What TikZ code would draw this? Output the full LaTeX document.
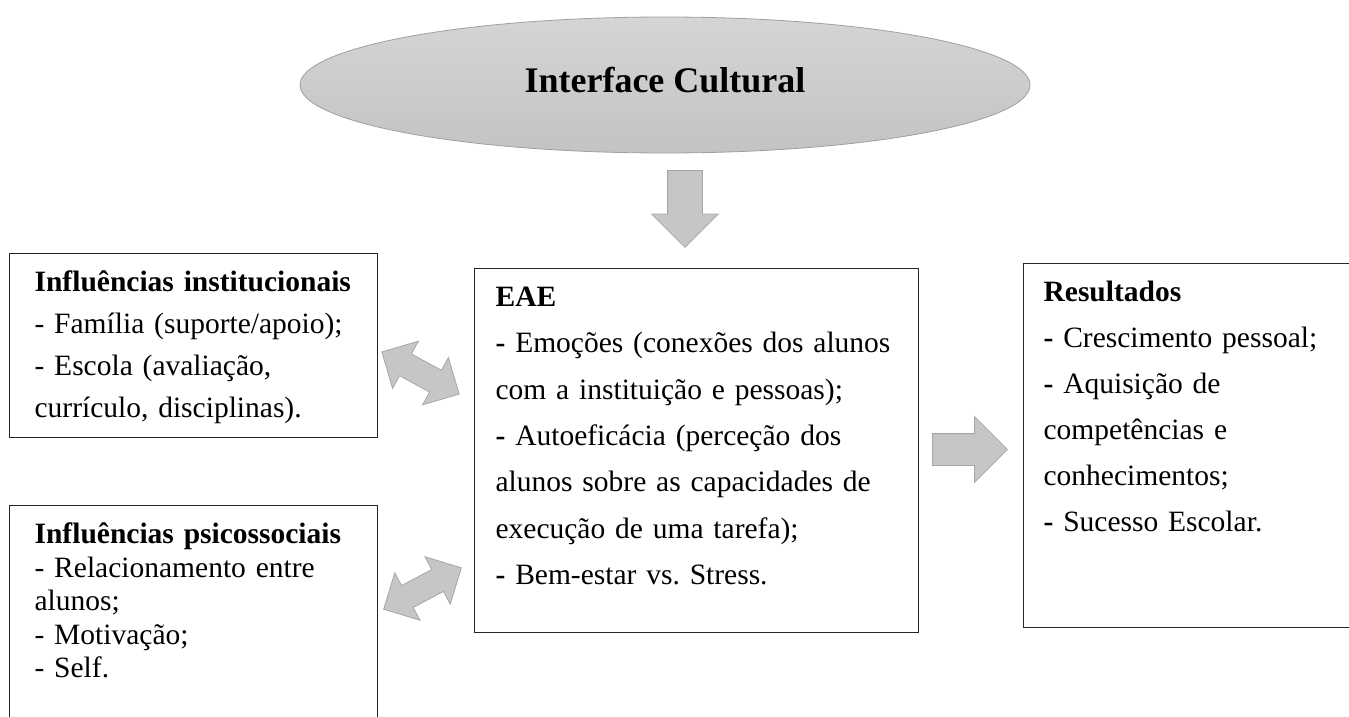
\documentclass[tikz,border=0pt]{standalone}
\usepackage{fontspec}
\setmainfont{Liberation Serif}
\frenchspacing
\usetikzlibrary{shapes.geometric,shapes.arrows}
\begin{document}
\begin{tikzpicture}[x=1pt,y=-1pt,
  box/.style={rectangle,draw=black!85,line width=1.2pt,anchor=north west,align=left,inner ysep=0pt,text height=38pt},
  bigarrow/.style={single arrow,draw=gray!70,fill=gray!45,line width=0.8pt,inner xsep=0pt,minimum width=1pt,anchor=tail},
  twoway/.style={double arrow,draw=gray!70,fill=gray!45,line width=0.8pt,inner xsep=0pt,inner ysep=12pt,double arrow head extend=14.5pt,minimum height=88pt}]
\useasboundingbox (0,0) rectangle (1349,717);
\clip (0,0) rectangle (1349,717);

% Cultural interface
\node[ellipse,minimum width=730pt,minimum height=136pt,inner sep=0pt,top color=gray!33,bottom color=gray!47,draw=gray!75,line width=0.8pt,font=\bfseries\fontsize{36}{40}\selectfont,text depth=10pt] (cultura) at (665,85) {Interface Cultural};

% Down arrow
\node[bigarrow,rotate=-90,inner ysep=17pt,single arrow head extend=16pt,minimum height=77pt] (desce) at (685,170) {};

% Influences
\node[box,inner xsep=25pt,text width=318pt,text depth=146pt,font=\fontsize{29.5}{42}\selectfont] (inst) at (9,253)
  {\mbox{\textbf{Influências institucionais}}\\- Família (suporte/apoio);\\- Escola (avaliação,\\currículo, disciplinas).};
\node[box,inner xsep=25pt,text width=318pt,text depth=250pt,font=\fontsize{29.5}{33.5}\selectfont] (psico) at (9,505)
  {\mbox{\textbf{Influências psicossociais}}\\- Relacionamento entre\\alunos;\\- Motivação;\\- Self.};

% EAE
\node[box,inner xsep=21pt,text width=402pt,text depth=326pt,font=\fontsize{29.5}{46.3}\selectfont] (eae) at (474,268)
  {\textbf{EAE}\\\textbf{-} Emoções (conexões dos alunos\\com a instituição e pessoas);\\\textbf{-} Autoeficácia (perceção dos\\alunos sobre as capacidades de\\execução de uma tarefa);\\\textbf{-} Bem-estar vs. Stress.};

% Results
\node[box,inner xsep=20pt,text width=400pt,text depth=326pt,font=\fontsize{29.5}{46}\selectfont] (result) at (1023,263)
  {\textbf{Resultados}\\\textbf{-} Crescimento pessoal;\\\textbf{-} Aquisição de\\competências e\\conhecimentos;\\\textbf{-} Sucesso Escolar.};

% Two-way links and output arrow
\node[twoway,rotate=-28.6] (linkinst) at (420.5,373) {};
\node[twoway,rotate=28] (linkpsico) at (422.5,588.5) {};
\node[bigarrow,inner ysep=15.5pt,single arrow head extend=17pt,minimum height=75pt] (saida) at (932,449.5) {};
\end{tikzpicture}
\end{document}
